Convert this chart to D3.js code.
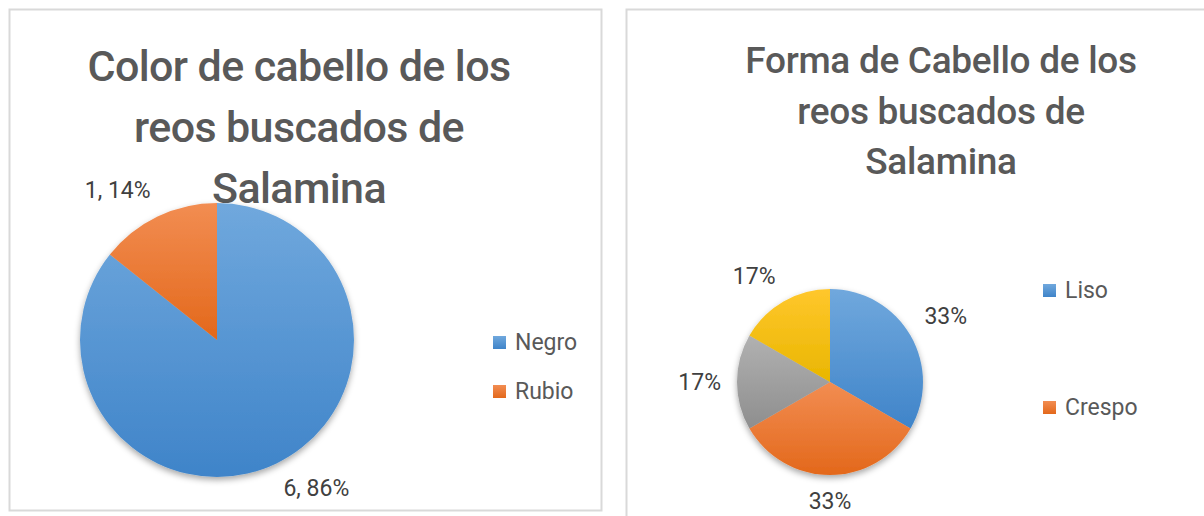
<!DOCTYPE html>
<html>
<head>
<meta charset="utf-8">
<script src="https://cdn.jsdelivr.net/npm/d3@7"></script>
<style>
  body { margin: 0; background: #fff; }
  svg { display: block; font-family: Roboto, "Noto Sans", sans-serif; }
</style>
</head>
<body>
<svg id="chart"></svg>
<script>
// left chart: hair colour
let colorTitle = ["Color de cabello de los", "reos buscados de", "Salamina"];
let colorNames = ["Negro", "Rubio"];
let colorValues = [6, 1];
let colorLabels = ["6, 86%", "1, 14%"];

// right chart: hair shape (last two slices have no name in the legend)
let shapeTitle = ["Forma de Cabello de los", "reos buscados de", "Salamina"];
let shapeNames = ["Liso", "Crespo", "", ""];
let shapeValues = [2, 2, 1, 1];
let shapeLabels = ["33%", "33%", "17%", "17%"];

const width = 1204;
const height = 516;

let palette = [
  {top: "#70a8dd", bottom: "#3f84c9"},
  {top: "#f28d52", bottom: "#e3681b"},
  {top: "#b1b1b1", bottom: "#8e8e8e"},
  {top: "#ffc72c", bottom: "#e9b600"}
];

let svg = d3.select("svg#chart")
  .attr("width", width)
  .attr("height", height);

let defs = svg.append("defs");

palette.forEach(function(p, i) {
  let g = defs.append("linearGradient")
    .attr("id", "grad" + i)
    .attr("x1", 0).attr("y1", 0)
    .attr("x2", 0).attr("y2", 1);
  g.append("stop").attr("offset", "0%").attr("stop-color", p.top);
  g.append("stop").attr("offset", "100%").attr("stop-color", p.bottom);
});

let shadow = defs.append("filter")
  .attr("id", "shadow")
  .attr("x", "-20%").attr("y", "-20%")
  .attr("width", "140%").attr("height", "140%");
shadow.append("feDropShadow")
  .attr("dx", 0).attr("dy", 3)
  .attr("stdDeviation", 3)
  .attr("flood-color", "#000")
  .attr("flood-opacity", 0.35);

function drawPanel(opts) {
  let panel = svg.append("g");

  panel.append("rect")
    .attr("x", opts.box[0] + 0.5)
    .attr("y", opts.box[1] + 0.5)
    .attr("width", opts.box[2])
    .attr("height", opts.box[3])
    .attr("fill", "#fff")
    .attr("stroke", "#d9d9d9")
    .attr("stroke-width", 2);

  // title
  panel.append("g")
    .selectAll("text")
    .data(opts.title)
    .join("text")
    .attr("x", opts.titleX)
    .attr("y", (d, i) => opts.titleY + i * opts.titleGap)
    .attr("text-anchor", "middle")
    .attr("font-size", opts.titleSize)
    .attr("font-weight", 500)
    .attr("letter-spacing", opts.titleSpacing)
    .attr("fill", "#595959")
    .text(d => d);

  let pie = d3.pie().sort(null).value(d => d);
  let arcs = pie(opts.values);

  let arc = d3.arc().innerRadius(0).outerRadius(opts.r);

  let plot = panel.append("g")
    .attr("transform", "translate(" + opts.cx + "," + opts.cy + ")");

  plot.append("g")
    .attr("filter", "url(#shadow)")
    .selectAll("path")
    .data(arcs)
    .join("path")
    .attr("d", arc)
    .attr("fill", (d, i) => "url(#grad" + i + ")");

  // data labels just outside the slice, Excel "outside end" style
  let lr = opts.r + 16;
  plot.append("g")
    .selectAll("text")
    .data(arcs)
    .join("text")
    .each(function(d, i) {
      let a = (d.startAngle + d.endAngle) / 2;
      let s = Math.sin(a), c = Math.cos(a);
      let x = lr * s, y = -lr * c;
      let anchor = Math.abs(s) < 0.1 ? "middle" : (s > 0 ? "start" : "end");
      let dy = Math.abs(c) < 0.1 ? 8 : (c > 0 ? -4 : 18);
      d3.select(this)
        .attr("x", x)
        .attr("y", y + dy)
        .attr("text-anchor", anchor)
        .attr("font-size", 23)
        .attr("fill", "#404040")
        .text(opts.labels[i]);
    });

  // legend
  let items = opts.names
    .map((n, i) => ({name: n, i: i}))
    .filter(d => d.name !== "");

  let legend = panel.append("g")
    .attr("transform", "translate(" + opts.legendX + "," + opts.legendY + ")");

  let rows = legend.selectAll("g")
    .data(items)
    .join("g")
    .attr("transform", (d, k) => "translate(0," + (k * opts.legendGap) + ")");

  rows.append("rect")
    .attr("x", 0)
    .attr("y", -14)
    .attr("width", 13)
    .attr("height", 13)
    .attr("fill", d => "url(#grad" + d.i + ")");

  rows.append("text")
    .attr("x", 22)
    .attr("y", 0)
    .attr("font-size", 23)
    .attr("fill", "#595959")
    .text(d => d.name);
}

drawPanel({
  box: [9, 9, 592, 501],
  title: colorTitle, titleX: 299, titleY: 81, titleGap: 61, titleSize: 43, titleSpacing: -0.6,
  values: colorValues, labels: colorLabels, names: colorNames,
  cx: 217, cy: 340, r: 137,
  legendX: 493, legendY: 350, legendGap: 49
});

drawPanel({
  box: [626, 9, 600, 520],
  title: shapeTitle, titleX: 941, titleY: 73, titleGap: 50.5, titleSize: 37, titleSpacing: -0.3,
  values: shapeValues, labels: shapeLabels, names: shapeNames,
  cx: 830, cy: 382, r: 93,
  legendX: 1043, legendY: 298, legendGap: 117
});
</script>
</body>
</html>
